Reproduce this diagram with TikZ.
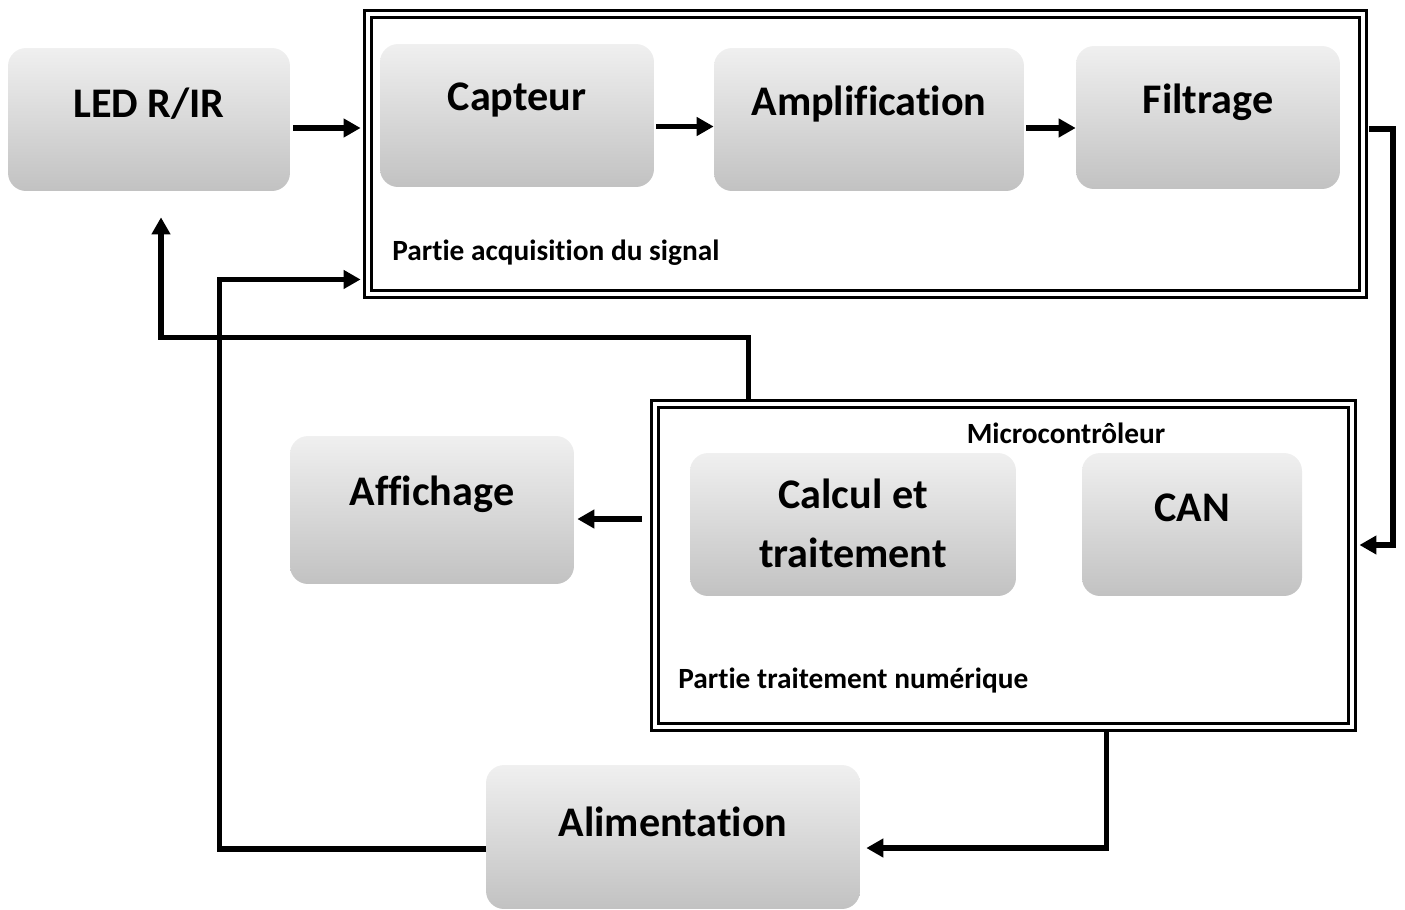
\documentclass[tikz,border=0pt]{standalone}
\usepackage{fontspec}
\setmainfont[Ligatures={NoCommon}]{Carlito}
\usetikzlibrary{arrows.meta,calc}

\tikzset{
  block/.style={rounded corners=0.36cm, top color=gray!12, bottom color=gray!48,
                draw=none, inner sep=0pt},
  btext/.style={font=\fontsize{24pt}{33.5pt}\selectfont\bfseries, align=center, inner sep=0pt},
  small/.style={font=\fontsize{16.7pt}{19pt}\selectfont\bfseries, inner sep=0pt},
  frame/.style={draw, double, double distance=0.08cm, line width=0.06cm, inner sep=0pt},
  arr/.style={line width=0.105cm, -{Triangle[length=0.34cm,width=0.36cm]}},
}

\begin{document}
\begin{tikzpicture}[x=0.02cm, y=-0.02cm]
\useasboundingbox (0,0) rectangle (1405,909);

% framed sub-systems
\node[frame, minimum width=19.92cm, minimum height=5.62cm] (acq) at (865.5,154) {};
\node[frame, minimum width=13.96cm, minimum height=6.48cm] (mcu) at (1003.5,565.5) {};

% blocks
\node[block, minimum width=5.64cm, minimum height=2.86cm] (led)   at (149,119.5) {};
\node[block, minimum width=5.48cm, minimum height=2.86cm] (capt)  at (517,115.5) {};
\node[block, minimum width=6.20cm, minimum height=2.86cm] (ampl)  at (869,119.5) {};
\node[block, minimum width=5.28cm, minimum height=2.86cm] (filt)  at (1208,117.5) {};
\node[block, minimum width=6.52cm, minimum height=2.86cm] (calc)  at (853,524.5) {};
\node[block, minimum width=4.40cm, minimum height=2.86cm] (can)   at (1192,524.5) {};
\node[block, minimum width=5.68cm, minimum height=2.96cm] (affi)  at (432,510) {};
\node[block, minimum width=7.48cm, minimum height=2.88cm] (alim)  at (673,837) {};

% block titles
\node[btext] (ledT)  at (149,104) {LED R/IR};
\node[btext] (captT) at (517,100) {Capteur};
\node[btext] (amplT) at (869,104) {Amplification};
\node[btext] (filtT) at (1208,102) {Filtrage};
\node[btext] (calcT) at (853,523.5) {Calcul et\\traitement};
\node[btext] (canT)  at (1192,508) {CAN};
\node[btext] (affiT) at (432,494) {Affichage};
\node[btext] (alimT) at (673,822) {Alimentation};

% frame captions
\node[small, anchor=west] (acqT) at (392,253) {Partie acquisition du signal};
\node[small] (mcuT) at (1066,433) {Microcontrôleur};
\node[small, anchor=west] (numT) at (678,681) {Partie traitement numérique};

% signal path
\draw[arr] ($(led.east)+(3,8.5)$) -- ($(acq.west |- led.east)+(-5.5,8.5)$);
\draw[arr] ($(capt.east)+(2,11)$) -- ($(ampl.west |- capt.east)+(0,11)$);
\draw[arr] ($(ampl.east)+(2,8.5)$) -- ($(filt.west |- ampl.east)+(0,8.5)$);
\draw[arr] ($(acq.east)+(4,-25)$) -- ++(24,0) |- ($(mcu.east)+(5.5,-20.5)$);
\draw[arr] ($(mcu.west)+(-11.5,-46.5)$) -- ($(affi.east |- mcu.west)+(3,-46.5)$);

% control and supply lines
\draw[arr] ($(mcu.north west)+(95.5,-3.5)$) |- ($(led.south)+(12,146)$) -- ($(led.south)+(12,26)$);
\draw[arr] ($(alim.west)+(0,12)$) -| ($(acq.south west)+(-146.5,-16.5)$) -- ($(acq.south west)+(-5.5,-16.5)$);
\draw[arr] ($(mcu.south west)+(453.5,3.5)$) |- ($(alim.east)+(6,11)$);

\end{tikzpicture}
\end{document}
